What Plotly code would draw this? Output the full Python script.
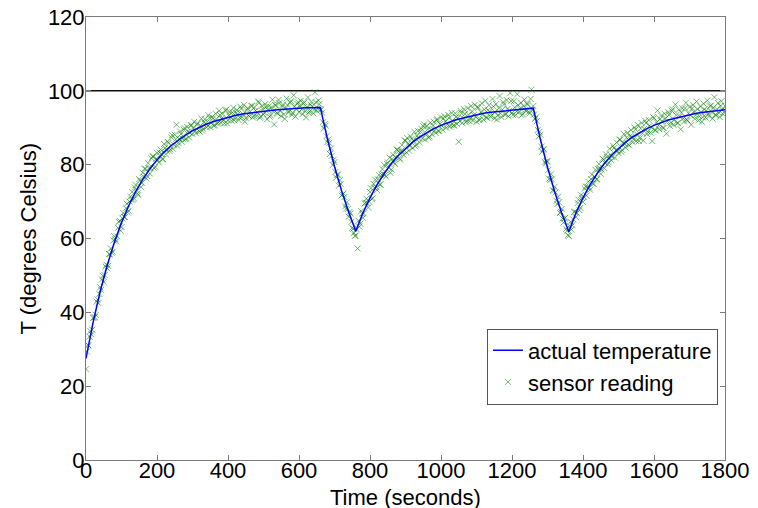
import plotly.graph_objects as go

# ---- data ----
actual_time = [0, 20, 40, 60, 80, 100, 120, 140, 160, 180, 200, 220, 240, 260, 280, 300,
               320, 340, 360, 380, 400, 420, 440, 460, 480, 500, 520, 540, 560, 580, 600,
               620, 640, 660,
               680, 700, 720, 740, 760,
               780, 800, 820, 840, 860, 880, 900, 920, 940, 960, 980, 1000, 1020, 1040,
               1060, 1080, 1100, 1120, 1140, 1160, 1180, 1200, 1220, 1240, 1260,
               1280, 1300, 1320, 1340, 1360,
               1380, 1400, 1420, 1440, 1460, 1480, 1500, 1520, 1540, 1560, 1580, 1600,
               1620, 1640, 1660, 1680, 1700, 1720, 1740, 1760, 1780, 1800]
actual_temp = [27.5, 37.3, 45.7, 52.8, 59.0, 64.3, 68.8, 72.7, 76.0, 78.9, 81.3, 83.4, 85.2,
               86.7, 88.0, 89.2, 90.2, 91.0, 91.7, 92.3, 92.8, 93.3, 93.7, 94.0, 94.3, 94.5,
               94.7, 94.9, 95.1, 95.2, 95.3, 95.4, 95.45, 95.5,
               87.0, 79.5, 72.9, 67.1, 62.0,
               66.9, 71.0, 74.6, 77.6, 80.3, 82.5, 84.4, 86.1, 87.5, 88.7, 89.75, 90.65,
               91.4, 92.1, 92.6, 93.1, 93.5, 93.9, 94.2, 94.4, 94.65, 94.85, 95.0, 95.15, 95.3,
               86.8, 79.3, 72.7, 66.9, 61.8,
               66.9, 71.0, 74.6, 77.6, 80.3, 82.5, 84.4, 86.1, 87.5, 88.7, 89.75, 90.65,
               91.4, 92.1, 92.6, 93.1, 93.5, 93.9, 94.2, 94.4, 94.65, 94.85]

# sensor readings taken every 5 s (t = 0, 5, ..., 1800)
sensor_temp_a = [
    24.6, 31.2, 33.4, 34.1, 38.5, 38.7, 42.9, 42.5, 46.8, 48.9, 48.2, 52.4, 51.9, 55.8, 57.3,
    56.4, 60.6, 59.2, 62.9, 64.8, 63.1, 66.9, 65.8, 69.4, 67.5, 71.3, 72.6, 70.9, 74.5, 72.2,
    76.1, 73.9, 77.8, 78.9, 76.3, 80.4, 77.6, 81.7, 82.3, 79.4, 83.2, 80.6, 84.1, 81.5, 85.6,
    82.8, 86.2, 83.7, 87.4, 84.3, 88.1, 90.8, 85.9, 89.0, 86.2, 89.5, 86.9, 90.2, 87.4, 90.7,
    88.3, 91.6, 88.5, 91.2, 89.0, 92.5, 89.7, 92.3, 90.1, 93.4, 90.2, 92.9, 90.6, 93.8, 91.1,
    94.6, 91.4, 93.7, 91.2, 94.9, 92.0, 94.3, 91.9, 95.4, 92.5, 94.8, 92.1, 95.7, 92.9, 96.2,
    92.6, 95.3, 93.1, 96.0, 92.8, 95.6, 93.2, 97.1, 92.7, 95.9, 93.6, 96.4, 92.3, 95.8, 93.4,
    97.6, 90.9, 96.1, 93.8, 96.7, 93.2, 96.3, 92.4, 97.9, 94.1, 96.8, 93.5, 98.8, 93.0, 96.5,
    94.2, 97.3, 93.7, 96.9, 92.8, 98.2, 94.4, 97.0, 93.9, 99.6, 94.6, 97.4, 95.0,
    94.1, 89.8, 90.6, 86.1, 85.9, 84.4, 79.9, 80.7, 76.5, 77.3, 75.8, 71.6, 72.2, 68.7, 69.8,
    65.9, 66.8, 62.9, 61.5, 60.8,
    57.3, 63.2, 67.4, 65.6, 69.5, 70.8, 68.4, 72.6, 70.7, 74.8, 75.9, 73.1, 77.2, 74.6, 78.8,
    79.9, 76.8, 80.6, 81.9, 78.7, 82.7, 80.2, 84.1, 83.6, 81.4, 85.3, 82.6, 86.5, 87.2, 83.8,
    87.6, 84.5, 88.9, 85.4, 89.1, 86.0, 89.7, 90.4, 86.8, 90.5, 87.3, 91.4, 88.2, 91.6, 88.6,
    92.3, 89.1, 92.8, 89.4, 93.1, 90.0, 93.5, 90.3, 94.0, 90.6, 93.9, 91.0, 86.2, 94.6, 91.3,
    95.0, 91.5, 95.3, 91.8, 95.9, 92.0, 96.2, 91.6, 95.4, 92.3, 96.6, 92.2, 97.3, 92.7, 96.1,
    93.0, 97.8, 92.5, 96.4, 93.3, 98.6, 92.9, 96.9, 93.6, 97.5, 93.1, 99.4, 94.0, 97.2, 93.4,
    99.1, 94.3, 96.8, 93.7, 97.6, 94.5, 96.3, 93.9, 100.3, 95.9,
    92.4, 91.8, 87.6, 88.1, 83.5, 84.2, 80.3, 80.9, 76.2, 77.4, 73.1, 74.0, 70.2, 71.3, 66.9,
    68.0, 64.3, 65.6, 62.1, 60.7,
    64.5, 63.6, 67.2, 65.8, 69.6, 67.7, 71.8, 69.9, 73.5, 71.6, 75.4, 73.2, 77.3, 74.8, 78.6,
    76.1, 80.2, 77.5, 81.6, 79.0, 82.8, 80.1, 84.3, 81.2, 85.1, 81.9, 86.0, 83.1, 86.8, 84.0,
    88.3, 84.6, 88.6, 85.2, 89.4, 86.1, 90.1, 86.4, 90.7, 87.2, 91.3, 86.5, 91.9, 88.3, 92.1,
    88.7, 86.4, 92.6, 89.3, 94.7, 89.6, 93.3, 90.0, 93.8, 88.4, 94.2, 90.5, 94.6, 90.8, 96.3,
    91.2, 94.9, 89.6, 95.3, 91.7, 96.8, 91.9, 95.6, 90.8, 96.2, 92.4, 97.1, 92.0, 95.8, 91.6,
    96.5, 92.8, 97.4, 93.1, 96.0, 92.5, 98.3, 93.4, 96.7, 92.9, 97.2, 93.6, 95.9]

# sensor readings taken in between (t = 2.5, 7.5, ..., 1797.5)
sensor_temp_b = [
    29.4, 31.0, 34.9, 35.3, 38.6, 39.3, 43.5, 45.0, 46.1, 49.9,
    50.1, 52.9, 52.6, 55.7, 56.1, 59.5, 59.8, 60.6, 64.5, 62.1,
    65.4, 65.8, 68.2, 67.1, 70.0, 70.5, 70.5, 73.8, 73.1, 71.8,
    75.7, 75.0, 76.7, 78.9, 76.9, 79.0, 79.0, 82.2, 79.0, 81.6,
    81.1, 83.3, 82.9, 81.5, 84.5, 83.8, 85.9, 84.1, 88.0, 85.4,
    86.9, 85.1, 87.0, 88.3, 87.0, 89.9, 87.0, 89.0, 88.6, 90.7,
    89.9, 89.2, 90.9, 89.2, 90.5, 89.2, 91.5, 91.2, 90.5, 92.7,
    91.3, 92.5, 90.7, 92.35, 91.4, 93.45, 92.5, 92.05, 94.75, 91.15,
    93.4, 92.75, 94.15, 92.05, 94.05, 93.65, 92.75, 95.15, 93.65, 91.65,
    94.8, 93.35, 94.35, 95.85, 93.2, 94.65, 94.15, 96.8, 93.05, 95.1,
    94.05, 95.7, 94.85, 93.0, 95.55, 94.5, 96.15, 94.0, 97.55, 94.6,
    95.75, 93.6, 95.2, 96.15, 94.6, 97.2, 94.05, 95.8, 95.1, 96.9,
    95.95, 95.0, 96.5, 94.5, 95.6, 94.1, 96.25, 95.8, 94.9, 96.9,
    95.3, 96.4,
    94.9, 91.5, 91.0, 87.7, 86.8, 82.9, 82.4, 81.3, 78.0, 77.3,
    74.3, 74.8, 71.9, 71.2, 68.1, 68.0, 67.2, 64.5, 62.6, 60.7,
    62.5, 64.8, 64.0, 66.7, 66.8, 69.7, 69.6, 70.0, 73.6, 70.9,
    73.8, 73.9, 76.0, 74.6, 77.3, 77.5, 77.2, 80.2, 79.2, 77.8,
    81.5, 80.6, 82.0, 84.0, 81.8, 83.7, 83.6, 86.6, 83.3, 85.7,
    85.0, 87.0, 86.5, 85.0, 87.8, 87.1, 89.0, 87.1, 90.9, 88.2,
    89.6, 87.6, 89.5, 90.6, 89.3, 92.1, 89.1, 91.0, 90.55, 92.5,
    91.7, 90.9, 92.6, 90.75, 92.0, 90.7, 92.95, 92.6, 91.8, 93.95,
    92.5, 93.7, 91.85, 93.45, 92.45, 94.45, 93.45, 92.95, 95.65, 92.05,
    94.25, 93.55, 94.9, 92.8, 94.75, 94.35, 93.4, 95.75, 94.25, 92.2,
    95.35, 93.9, 94.9, 96.3, 93.7, 95.1, 94.6, 97.2, 93.5, 95.5,
    94.45, 96.1, 95.2, 93.35, 95.9, 94.8, 96.45, 94.3, 97.8, 94.85,
    93.6, 92.8, 89.4, 88.9, 84.9, 84.1, 80.8, 80.9, 78.6, 75.9,
    76.0, 72.9, 72.5, 69.3, 69.8, 67.2, 65.4, 65.4, 62.6, 60.9,
    63.4, 62.4, 65.2, 67.3, 66.9, 70.5, 68.3, 71.0, 71.3, 74.1,
    73.9, 73.8, 76.1, 74.9, 76.8, 76.0, 78.8, 79.0, 78.7, 81.4,
    80.4, 82.1, 80.6, 82.7, 82.1, 84.5, 83.9, 83.7, 86.8, 83.5,
    86.0, 85.6, 87.3, 85.5, 87.7, 87.6, 86.9, 89.5, 88.2, 86.4,
    89.8, 88.5, 89.7, 91.3, 88.9, 90.5, 90.1, 92.9, 89.35, 91.5,
    90.6, 92.4, 91.7, 89.95, 92.6, 91.7, 93.45, 91.4, 95.0, 92.15,
    93.4, 91.3, 93.05, 94.05, 92.55, 95.25, 92.15, 93.95, 93.35, 95.25,
    94.35, 93.45, 95.0, 93.1, 94.25, 92.85, 95.0, 94.55, 93.75, 95.8,
    94.25, 95.4, 93.5, 95.0, 94.0, 95.9, 94.9, 94.3]

sensor_time_a = [5 * i for i in range(len(sensor_temp_a))]
sensor_time_b = [2.5 + 5 * i for i in range(len(sensor_temp_b))]
sensor_time = sensor_time_a + sensor_time_b
sensor_temp = sensor_temp_a + sensor_temp_b

setpoint_time = [0, 1800]
setpoint_temp = [100, 100]

x_ticks = [0, 200, 400, 600, 800, 1000, 1200, 1400, 1600, 1800]
y_ticks = [0, 20, 40, 60, 80, 100, 120]

FONT = "Liberation Sans, Arial, sans-serif"
GREEN = "rgba(0,128,0,0.55)"

fig = go.Figure()
fig.add_trace(go.Scatter(
    x=setpoint_time, y=setpoint_temp, mode="lines",
    line=dict(color="#111111", width=1.5), showlegend=False, hoverinfo="skip"))
fig.add_trace(go.Scatter(
    x=sensor_time, y=sensor_temp, mode="markers", name="sensor reading",
    legendrank=2,
    marker=dict(symbol="x-thin", size=6, color=GREEN, line=dict(width=1, color=GREEN))))
fig.add_trace(go.Scatter(
    x=actual_time, y=actual_temp, mode="lines", name="actual temperature",
    legendrank=1,
    line=dict(color="#0000ff", width=1.5)))

axis_common = dict(
    showgrid=False, zeroline=False, showline=True, linecolor="#7a7a7a", linewidth=1,
    mirror="ticks", ticks="inside", ticklen=5, tickcolor="#7a7a7a",
    ticklabeloverflow="allow",
    tickfont=dict(family=FONT, size=22, color="black"))

fig.update_xaxes(range=[0, 1800], tickvals=x_ticks, ticklabelstandoff=-9, **axis_common)
fig.update_yaxes(range=[0, 120], tickvals=y_ticks, ticklabelstandoff=-4, **axis_common)

# page body has an 8 px margin, so the figure is sized/offset to compensate
fig.update_layout(
    width=750, height=500,
    margin=dict(l=78, r=33, t=9, b=48, autoexpand=False),
    paper_bgcolor="white", plot_bgcolor="white",
    font=dict(family=FONT, size=22, color="black"),
    legend=dict(x=0.989, y=0.211, xanchor="right", yanchor="middle",
                bgcolor="white", bordercolor="#555555", borderwidth=1,
                font=dict(family=FONT, size=22, color="black"),
                itemwidth=30, tracegroupgap=0),
    annotations=[
        dict(text="Time (seconds)", xref="paper", yref="paper", x=0.5, y=0,
             xanchor="center", yanchor="middle", yshift=-37, showarrow=False,
             font=dict(family=FONT, size=22, color="black")),
        dict(text="T (degrees Celsius)", xref="paper", yref="paper", x=0, y=0.5,
             xanchor="center", yanchor="middle", xshift=-58, textangle=-90, showarrow=False,
             font=dict(family=FONT, size=22, color="black")),
    ],
)

fig.write_html("out.html")
